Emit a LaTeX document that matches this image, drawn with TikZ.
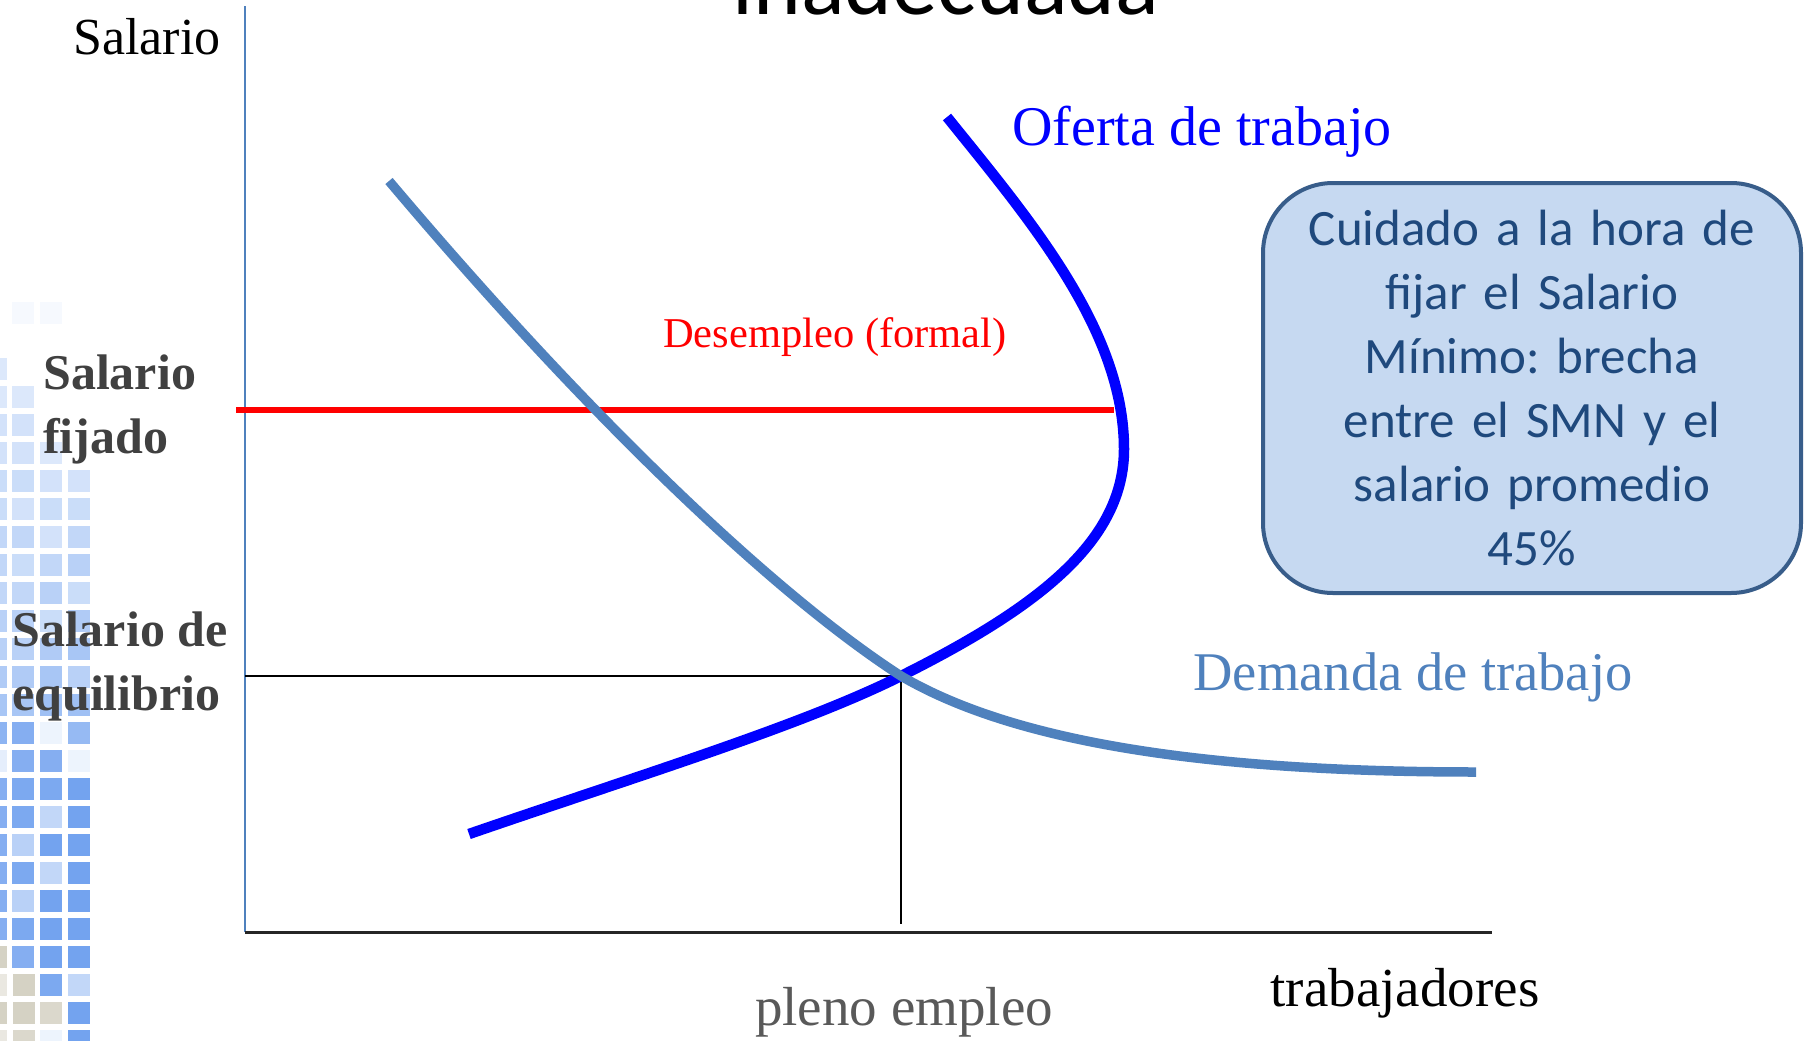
\documentclass[tikz,border=0pt]{standalone}
\usepackage{fontspec}
\setmainfont{Liberation Serif}
\newfontfamily\carlitofont{Carlito}
\definecolor{supplyblue}{RGB}{0,0,255}
\definecolor{demandblue}{RGB}{79,129,189}
\definecolor{boxfill}{RGB}{198,217,241}
\definecolor{boxline}{RGB}{56,93,138}
\definecolor{boxtext}{RGB}{31,73,125}
\definecolor{labelgray}{RGB}{64,64,64}
\definecolor{pgray}{RGB}{89,89,89}
\definecolor{sqblue}{RGB}{80,140,235}
\definecolor{sqtan}{RGB}{195,190,170}
\frenchspacing
\begin{document}
\begin{tikzpicture}[x=1pt,y=-1pt,
  ylab/.style={text=labelgray, font=\bfseries\fontsize{50}{64}\selectfont, align=left, anchor=west, inner sep=0pt},
  curvelab/.style={font=\fontsize{#1}{#1}\selectfont, inner sep=0pt},
  supplyline/.style={draw=supplyblue, line width=10.5pt},
  demandline/.style={draw=demandblue, line width=9.5pt},
  fixline/.style={draw=red, line width=6pt},
  eqline/.style={draw=black, line width=1.5pt},
  noteBox/.style={draw=boxline, line width=4pt, fill=boxfill, rounded corners=70pt,
    text=boxtext, font=\carlitofont\fontsize{51}{64}\selectfont, align=center,
    text width=500pt, minimum height=410pt, inner xsep=19pt, inner ysep=0pt}
]
\useasboundingbox (0,0) rectangle (1804,1041);
\fill[white] (0,0) rectangle (1804,1041);

% decorative squares on the left
\foreach \k/\v in {-13/20,-12/20,-11/25,-10/25,-9/30,-8/30,-7/35,-6/35,-5/35,-4/40,-3/40,-2/45,-1/50,0/65,1/15,2/70,3/70,4/70,5/70,6/70,7/70}
  \fill[sqblue!\v!white] (-15,{722+28*\k}) rectangle +(22,22);
\foreach \k/\v in {-15/5,-12/20,-11/25,-10/25,-9/30,-8/25,-7/35,-6/30,-5/35,-4/40,-3/40,-2/45,-1/50,0/70,1/70,2/75,3/75,4/40,5/75,6/40,7/75,8/70}
  \fill[sqblue!\v!white] (12,{722+28*\k}) rectangle +(22,22);
\foreach \k/\v in {-15/5,-10/20,-9/25,-8/30,-7/25,-6/35,-5/40,-4/30,-3/45,-2/50,-1/55,0/10,1/70,2/75,3/35,4/80,5/35,6/80,7/80,8/80,9/75,11/10}
  \fill[sqblue!\v!white] (40,{722+28*\k}) rectangle +(22,22);
\foreach \k/\v in {-9/25,-8/30,-7/35,-6/40,-5/30,-4/45,-3/50,-2/40,-1/55,0/60,1/10,2/80,3/80,4/80,5/80,6/80,7/80,8/80,9/35,10/80,11/80}
  \fill[sqblue!\v!white] (68,{722+28*\k}) rectangle +(22,22);
\foreach \c/\k/\v in {0/8/70,0/9/35,0/10/70,0/11/35,1/9/70,1/10/70,1/11/60,2/10/60}
  \fill[sqtan!\v!white] ({-15+27.5*\c},{722+28*\k}) rectangle +(22,22);

% title (cut off at the top)
\node[anchor=base, font=\carlitofont\fontsize{91}{100}\selectfont, inner sep=0pt] (title) at (946,15) {inadecuada};

% axes
\coordinate (O) at (245,932);
\coordinate (ytop) at (245,6);
\coordinate (xend) at (1492,932);
\draw[draw=demandblue, line width=2pt] (O) -- (ytop);
\draw[draw=black!85, line width=3pt] (O) -- (xend);

% equilibrium guides
\coordinate (E) at (901,676);
\coordinate (Ey) at (245,676);
\coordinate (Ex) at (901,924);
\draw[eqline] (Ey) -- (E) -- (Ex);

% fixed wage line
\coordinate (R0) at (236,410);
\coordinate (R1) at (1114,410);
\draw[fixline] (R0) -- (R1);

% supply curve
\coordinate (S0) at (469,834);
\coordinate (Sr) at (1124,449);
\coordinate (S1) at (947,117);
\draw[supplyline] (S0) .. controls (640,775) and (801,726) .. (E)
  .. controls (1041,606) and (1124,540) .. (Sr)
  .. controls (1124,330) and (1030,220) .. (S1);

% demand curve
\coordinate (D0) at (389,181);
\coordinate (D1) at (1476,772);
\draw[demandline] (D0) .. controls (584,412) and (771,592) .. (E)
  .. controls (990,728) and (1150,772) .. (D1);

% labels
\node[curvelab=52] (salario) at (147,37) {Salario};
\node[ylab] (fijado) at (43,409) {Salario\\fijado};
\node[ylab] (equil) at (12,666) {Salario de\\equilibrio};
\node[curvelab=56, text=supplyblue] (oferta) at (1202,132) {Oferta de trabajo};
\node[curvelab=42.5, text=red] (desemp) at (835,337) {Desempleo (formal)};
\node[curvelab=54.5, text=demandblue] (demanda) at (1413,677) {Demanda de trabajo};
\node[curvelab=55, text=pgray] (pleno) at (904,1012) {pleno empleo};
\node[curvelab=55] (trab) at (1405,993) {trabajadores};

% note box
\node[noteBox] (note) at (1532,388) {Cuidado a la hora de\\fijar el Salario\\Mínimo: brecha\\entre el SMN y el\\salario promedio\\45\%};
\end{tikzpicture}
\end{document}
